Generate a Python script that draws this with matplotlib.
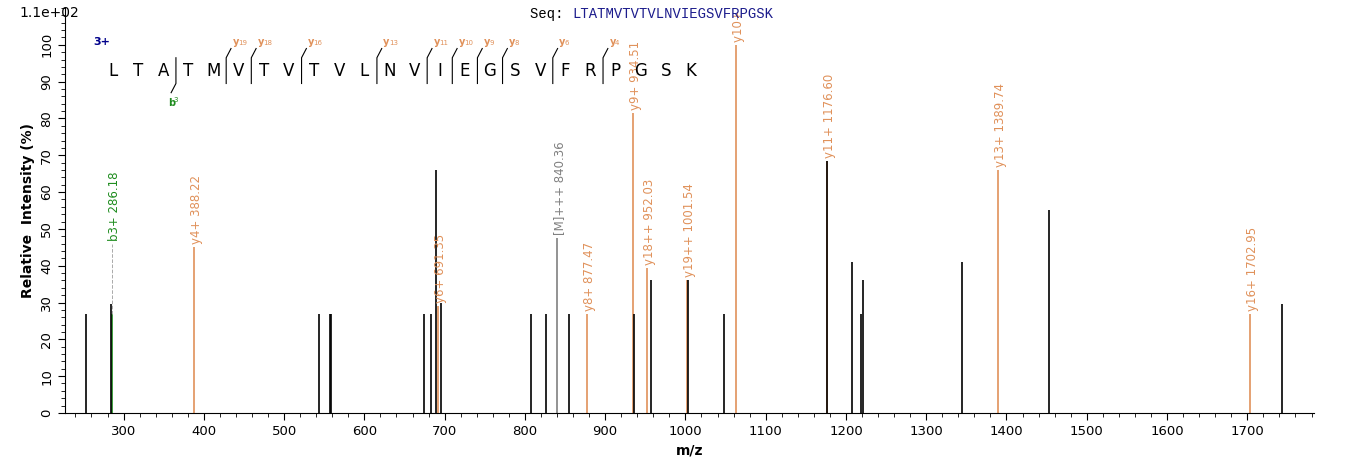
import matplotlib
matplotlib.use("Agg")
import matplotlib.pyplot as plt
from matplotlib.ticker import MultipleLocator

# unlabeled peaks (black)
black_mz = [253.5, 284.7, 543.9, 557.7, 559.0, 673.7, 682.4, 688.7, 694.9, 807.1, 825.8,
            854.5, 935.6, 956.8, 1002.9, 1047.8, 1176.9, 1207.4, 1218.6, 1221.1, 1344.6, 1453.1, 1743.7]
black_int = [27, 29.5, 27, 27, 27, 27, 27, 66, 30, 27, 27,
             27, 27, 36, 36, 27, 68.5, 41, 27, 36, 41, 55, 29.5]
# annotated peaks
ann_mz = [286.18, 388.22, 691.35, 840.36, 877.47, 934.51, 952.03, 1001.54, 1063.5, 1176.60, 1389.74, 1702.95]
ann_int = [27, 45, 29, 47.5, 27, 81.5, 39.5, 36, 100, 68.5, 66, 27]
ann_label = ["b3+ 286.18", "y4+ 388.22", "y6+ 691.35", "[M]+++ 840.36", "y8+ 877.47", "y9+ 934.51",
             "y18++ 952.03", "y19++ 1001.54", "y10+ 1063.5", "y11+ 1176.60", "y13+ 1389.74", "y16+ 1702.95"]
ann_kind = ["b", "y", "y", "m", "y", "y", "y", "y", "y", "y", "y", "y"]

sequence = "LTATMVTVTVLNVIEGSVFRPGSK"
y_breaks = [19, 18, 16, 13, 11, 10, 9, 8, 6, 4]
b_breaks = [3]

ORANGE = "#E0915A"
GREEN = "#1E8C1E"
GRAY = "#808080"
col = {"b": GREEN, "y": ORANGE, "m": GRAY}

fig = plt.figure(figsize=(13.62, 4.73), dpi=100)
ax = fig.add_axes([0.0477, 0.127, 0.917, 0.856])
ax.set_xlim(227, 1783)
ax.set_ylim(0, 110)

ax.vlines(black_mz, 0, black_int, colors="black", lw=1.2, zorder=3)
for mz, h, lab, k in zip(ann_mz, ann_int, ann_label, ann_kind):
    c = col[k]
    ax.vlines([mz], 0, [h], colors=c, lw=1.2, zorder=2)
    base = h
    if k == "b":
        ax.plot([mz, mz], [h, h + 19], ls="--", color="#AAAAAA", lw=0.7)
        base = h + 19
    ax.text(mz + 3, base + 0.8, lab, rotation=90, color=c, fontsize=8.5,
            ha="center", va="bottom", clip_on=True)

# sequence annotation
x0, dx, yl = 287.0, 31.3, 93
for i, aa in enumerate(sequence):
    ax.text(x0 + i * dx, yl, aa, fontsize=12, ha="center", va="center", color="black")
n = len(sequence)
for yb in y_breaks:
    xb = x0 + (n - yb - 0.5) * dx
    ax.plot([xb, xb, xb + 6], [89.5, 96.5, 99], color="black", lw=0.8)
    ax.text(xb + 8, 99.5, "y", color=ORANGE, fontsize=7, fontweight="bold", va="bottom")
    ax.text(xb + 15, 99.7, str(yb), color=ORANGE, fontsize=5, va="bottom")
for bb in b_breaks:
    xb = x0 + (bb - 0.5) * dx
    ax.plot([xb, xb, xb - 6], [96.5, 89.5, 87], color="black", lw=0.8)
    ax.text(xb - 10, 85.5, "b", color=GREEN, fontsize=7, fontweight="bold", va="top")
    ax.text(xb - 3, 85.7, str(bb), color=GREEN, fontsize=5, va="top")
ax.text(262, 99.5, "3+", color="#00008B", fontsize=8, fontweight="bold", va="bottom")

for s in ["top", "right"]:
    ax.spines[s].set_visible(False)
ax.xaxis.set_major_locator(MultipleLocator(100))
ax.xaxis.set_minor_locator(MultipleLocator(20))
ax.yaxis.set_major_locator(MultipleLocator(10))
ax.yaxis.set_minor_locator(MultipleLocator(2))
ax.set_yticks(range(0, 101, 10))
ax.set_xticks(range(300, 1701, 100))
ax.tick_params(axis="both", which="major", length=5, labelsize=9.5)
ax.tick_params(axis="both", which="minor", length=3)
for t in ax.get_yticklabels():
    t.set_rotation(90)
    t.set_va("center")
ax.set_xlabel("m/z", fontsize=10, fontweight="bold")
ax.set_ylabel("Relative  Intensity (%)", fontsize=10, fontweight="bold")
fig.text(0.014, 0.965, "1.1e+02", fontsize=10)
fig.text(0.389, 0.963, "Seq: ", fontsize=10, family="Liberation Mono")
fig.text(0.42, 0.963, sequence, fontsize=10, family="Liberation Mono", color="#1C1C8C")

fig.savefig("out.png", dpi=100)
